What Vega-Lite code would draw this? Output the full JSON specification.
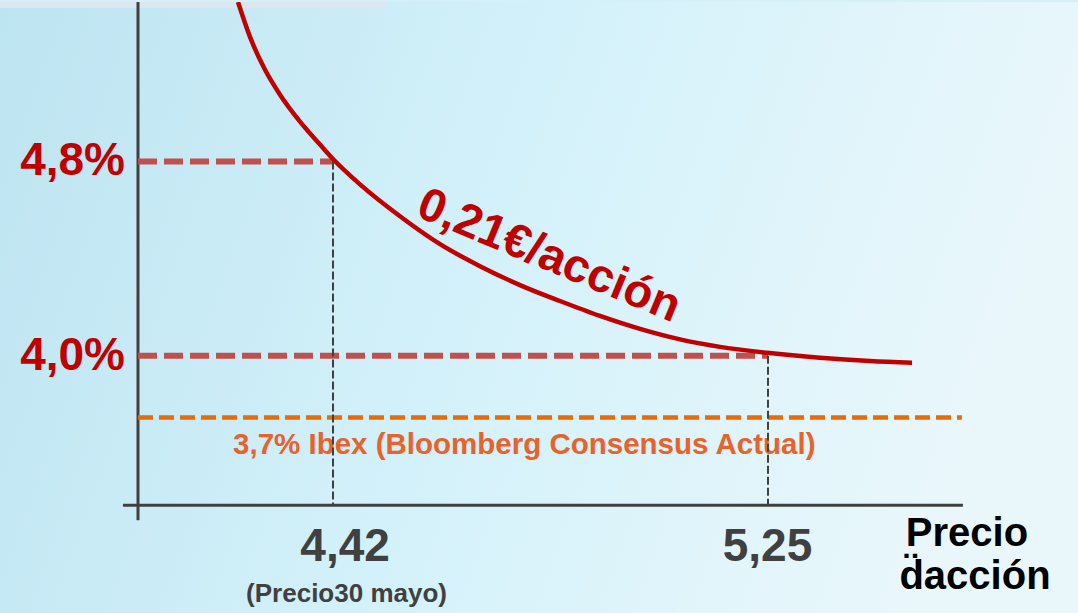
{
  "$schema": "https://vega.github.io/schema/vega-lite/v6.json",
  "width": 1078,
  "height": 613,
  "autosize": {"type": "fit", "contains": "padding"},
  "padding": 0,
  "background": "#d6f0f8",
  "config": {"view": {"stroke": null}},
  "datasets": {
    "bg": [{"x0": 3.7846, "x1": 5.8415, "y0": 2.9415, "y1": 5.4564}],
    "strip": [{"x0": 3.7846, "x1": 4.5192, "y0": 5.4318, "y1": 5.4564}],
    "axes": [
      {"x1": 4.0193, "y1": 3.3846, "x2": 5.622, "y2": 3.3846},
      {"x1": 4.0479, "y1": 5.4564, "x2": 4.0479, "y2": 3.323}
    ],
    "levels": [
      {"x1": 4.0479, "x2": 4.42, "y": 4.8},
      {"x1": 4.0479, "x2": 5.25, "y": 4.0}
    ],
    "ibex": [{"x1": 4.0479, "x2": 5.62, "y": 3.746}],
    "drops": [
      {"x": 4.42, "y1": 4.8, "y2": 3.3846},
      {"x": 5.25, "y1": 4.0, "y2": 3.3846}
    ],
    "curve": [
      {"precio": 4.2387, "rent": 5.4564},
      {"precio": 4.2616, "rent": 5.3128},
      {"precio": 4.2903, "rent": 5.1774},
      {"precio": 4.3189, "rent": 5.0749},
      {"precio": 4.357, "rent": 4.9641},
      {"precio": 4.3952, "rent": 4.8697},
      {"precio": 4.42, "rent": 4.81},
      {"precio": 4.4715, "rent": 4.7056},
      {"precio": 4.5478, "rent": 4.5744},
      {"precio": 4.6242, "rent": 4.4595},
      {"precio": 4.7005, "rent": 4.3692},
      {"precio": 4.7768, "rent": 4.2913},
      {"precio": 4.8531, "rent": 4.2256},
      {"precio": 4.9294, "rent": 4.1641},
      {"precio": 5.0058, "rent": 4.1108},
      {"precio": 5.0821, "rent": 4.0677},
      {"precio": 5.1584, "rent": 4.0369},
      {"precio": 5.2481, "rent": 4.0123},
      {"precio": 5.3492, "rent": 3.9918},
      {"precio": 5.4446, "rent": 3.9783},
      {"precio": 5.5248, "rent": 3.9713}
    ],
    "ylabels": [
      {"label": "4,8%", "x": 4.0231, "y": 4.8},
      {"label": "4,0%", "x": 4.0231, "y": 4.0}
    ],
    "xlabels": [
      {"label": "4,42", "x": 4.443, "y": 3.214},
      {"label": "5,25", "x": 5.249, "y": 3.214}
    ],
    "xnote": [{"label": "(Precio30 mayo)", "x": 4.4458, "y": 3.0195}],
    "xtitle": [
      {"label": "Precio", "x": 5.6297, "y": 3.265},
      {"label": "d̈acción", "x": 5.645, "y": 3.09}
    ],
    "ibexlabel": [{"label": "3,7% Ibex (Bloomberg Consensus Actual)", "x": 4.785, "y": 3.632}],
    "curvelabel": [{"label": "0,21€/acción", "x": 4.8321, "y": 4.4103}]
  },
  "layer": [
    {
      "data": {"name": "bg"},
      "mark": {"type": "rect", "color": {"gradient": "linear", "x1": 0, "y1": 0, "x2": 1, "y2": 0.2, "stops": [{"offset": 0, "color": "#bde4f1"}, {"offset": 0.5, "color": "#d3f1fa"}, {"offset": 1, "color": "#e9f7fb"}]}},
      "encoding": {
        "x": {"field": "x0", "type": "quantitative", "scale": {"domain": [3.7846, 5.8415], "nice": false, "zero": false}, "axis": null},
        "x2": {"field": "x1"},
        "y": {"field": "y0", "type": "quantitative", "scale": {"domain": [2.9415, 5.4564], "nice": false, "zero": false}, "axis": null},
        "y2": {"field": "y1"}
      }
    },
    {
      "data": {"name": "strip"},
      "mark": {"type": "rect", "color": "#dce6f1"},
      "encoding": {
        "x": {"field": "x0", "type": "quantitative"},
        "x2": {"field": "x1"},
        "y": {"field": "y0", "type": "quantitative"},
        "y2": {"field": "y1"}
      }
    },
    {
      "data": {"name": "axes"},
      "mark": {"type": "rule", "color": "#404040", "strokeWidth": 3},
      "encoding": {
        "x": {"field": "x1", "type": "quantitative"},
        "x2": {"field": "x2"},
        "y": {"field": "y1", "type": "quantitative"},
        "y2": {"field": "y2"}
      }
    },
    {
      "data": {"name": "levels"},
      "mark": {"type": "rule", "color": "#c0504d", "strokeWidth": 6, "strokeDash": [19, 7]},
      "encoding": {
        "x": {"field": "x1", "type": "quantitative"},
        "x2": {"field": "x2"},
        "y": {"field": "y", "type": "quantitative"}
      }
    },
    {
      "data": {"name": "ibex"},
      "mark": {"type": "rule", "color": "#e46c0a", "strokeWidth": 4.5, "strokeDash": [15, 6]},
      "encoding": {
        "x": {"field": "x1", "type": "quantitative"},
        "x2": {"field": "x2"},
        "y": {"field": "y", "type": "quantitative"}
      }
    },
    {
      "data": {"name": "ibexlabel"},
      "mark": {"type": "text", "font": "Liberation Sans", "fontWeight": "bold", "fontSize": 29.5, "color": "#e8622c", "align": "center", "baseline": "middle"},
      "encoding": {
        "x": {"field": "x", "type": "quantitative"},
        "y": {"field": "y", "type": "quantitative"},
        "text": {"field": "label"}
      }
    },
    {
      "data": {"name": "curve"},
      "mark": {"type": "line", "color": "#c00000", "strokeWidth": 4.5, "interpolate": "monotone", "clip": true},
      "encoding": {
        "x": {"field": "precio", "type": "quantitative"},
        "y": {"field": "rent", "type": "quantitative"}
      }
    },
    {
      "data": {"name": "drops"},
      "mark": {"type": "rule", "color": "#404040", "strokeWidth": 2, "strokeDash": [8, 3]},
      "encoding": {
        "x": {"field": "x", "type": "quantitative"},
        "y": {"field": "y1", "type": "quantitative"},
        "y2": {"field": "y2"}
      }
    },
    {
      "data": {"name": "curvelabel"},
      "mark": {"type": "text", "font": "Liberation Sans", "fontWeight": "bold", "fontSize": 47, "color": "#c00000", "align": "center", "baseline": "middle", "angle": 22.5},
      "encoding": {
        "x": {"field": "x", "type": "quantitative"},
        "y": {"field": "y", "type": "quantitative"},
        "text": {"field": "label"}
      }
    },
    {
      "data": {"name": "ylabels"},
      "mark": {"type": "text", "font": "Liberation Sans", "fontWeight": "bold", "fontSize": 46, "color": "#c00000", "align": "right", "baseline": "middle"},
      "encoding": {
        "x": {"field": "x", "type": "quantitative"},
        "y": {"field": "y", "type": "quantitative"},
        "text": {"field": "label"}
      }
    },
    {
      "data": {"name": "xlabels"},
      "mark": {"type": "text", "font": "Liberation Sans", "fontWeight": "bold", "fontSize": 46, "color": "#404040", "align": "center", "baseline": "middle"},
      "encoding": {
        "x": {"field": "x", "type": "quantitative"},
        "y": {"field": "y", "type": "quantitative"},
        "text": {"field": "label"}
      }
    },
    {
      "data": {"name": "xnote"},
      "mark": {"type": "text", "font": "Liberation Sans", "fontWeight": "bold", "fontSize": 26, "color": "#404040", "align": "center", "baseline": "middle"},
      "encoding": {
        "x": {"field": "x", "type": "quantitative"},
        "y": {"field": "y", "type": "quantitative"},
        "text": {"field": "label"}
      }
    },
    {
      "data": {"name": "xtitle"},
      "mark": {"type": "text", "font": "Liberation Sans", "fontWeight": "bold", "fontSize": 40, "color": "#000000", "align": "center", "baseline": "middle"},
      "encoding": {
        "x": {"field": "x", "type": "quantitative"},
        "y": {"field": "y", "type": "quantitative"},
        "text": {"field": "label"}
      }
    }
  ]
}
